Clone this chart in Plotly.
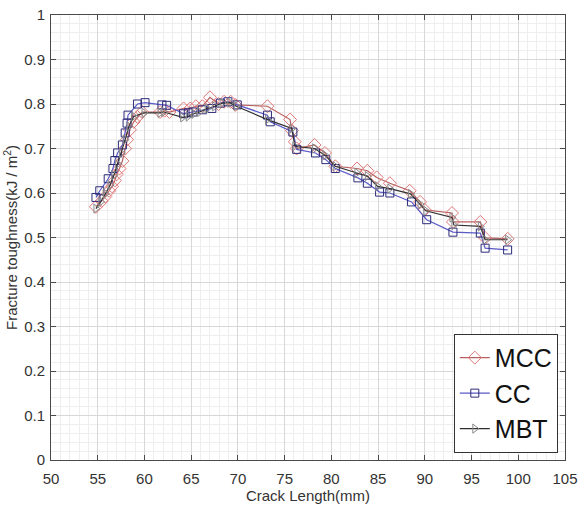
import plotly.graph_objects as go

# Crack length (mm) and fracture toughness (kJ/m^2) for each data-reduction method
mcc_x = [54.81, 55.42, 55.82, 56.22, 56.53, 56.83, 57.03, 57.33, 57.64, 57.94, 58.14, 58.44, 58.85,
         59.25, 59.75, 61.67, 62.17, 62.67, 64.19, 64.89, 65.50, 66.20, 67.01, 67.92, 68.52, 69.23,
         69.73, 73.16, 75.58, 75.78, 76.09, 76.29, 78.20, 79.31, 80.42, 82.74, 83.85, 84.85, 86.26,
         88.38, 89.49, 89.99, 92.91, 93.01, 95.94, 96.45, 98.86]
mcc_y = [0.569, 0.582, 0.592, 0.605, 0.615, 0.628, 0.642, 0.655, 0.672, 0.700, 0.720, 0.742, 0.760,
         0.771, 0.782, 0.782, 0.785, 0.782, 0.790, 0.790, 0.795, 0.795, 0.815, 0.800, 0.805, 0.805,
         0.798, 0.795, 0.765, 0.740, 0.715, 0.700, 0.708, 0.690, 0.660, 0.655, 0.650, 0.635, 0.622,
         0.605, 0.580, 0.562, 0.555, 0.535, 0.535, 0.499, 0.497]

cc_x = [54.81, 55.22, 56.12, 56.63, 56.83, 57.13, 57.64, 57.94, 58.14, 58.24, 59.25, 60.06, 61.87,
        62.37, 64.19, 64.69, 65.20, 66.20, 67.21, 68.12, 68.93, 69.93, 73.16, 73.46, 75.88, 76.29,
        78.30, 79.41, 80.42, 82.84, 83.85, 85.16, 86.26, 88.58, 90.20, 93.01, 95.94, 96.45, 98.86]
cc_y = [0.590, 0.605, 0.632, 0.655, 0.673, 0.690, 0.708, 0.735, 0.757, 0.775, 0.800, 0.803, 0.798,
        0.797, 0.778, 0.780, 0.782, 0.787, 0.790, 0.802, 0.805, 0.798, 0.775, 0.760, 0.737, 0.698,
        0.690, 0.675, 0.655, 0.634, 0.622, 0.602, 0.600, 0.580, 0.540, 0.512, 0.510, 0.476, 0.472]

mbt_x = [54.81, 55.32, 55.82, 56.33, 56.73, 57.13, 57.54, 57.94, 58.34, 58.85, 59.96, 61.67, 62.07,
         64.09, 64.69, 65.30, 65.90, 66.71, 67.51, 68.32, 69.13, 69.83, 73.16, 75.78, 76.09, 78.20,
         79.31, 80.42, 82.74, 83.85, 84.95, 86.26, 88.48, 89.49, 90.10, 92.91, 93.11, 95.94, 96.45,
         98.86]
mbt_y = [0.565, 0.580, 0.598, 0.618, 0.640, 0.665, 0.690, 0.720, 0.750, 0.772, 0.780, 0.780, 0.782,
         0.770, 0.772, 0.778, 0.782, 0.790, 0.795, 0.802, 0.803, 0.795, 0.765, 0.745, 0.705, 0.700,
         0.685, 0.660, 0.645, 0.638, 0.615, 0.610, 0.598, 0.575, 0.560, 0.545, 0.528, 0.525, 0.495,
         0.495]

x_ticks = [50, 55, 60, 65, 70, 75, 80, 85, 90, 95, 100, 105]
y_ticks = [0, 0.1, 0.2, 0.3, 0.4, 0.5, 0.6, 0.7, 0.8, 0.9, 1]
y_tick_text = ["0", "0.1", "0.2", "0.3", "0.4", "0.5", "0.6", "0.7", "0.8", "0.9", "1"]

fig = go.Figure()
fig.add_trace(go.Scatter(
    x=mcc_x, y=mcc_y, name="MCC", mode="lines+markers",
    line=dict(color="#b86060", width=1.2),
    marker=dict(symbol="diamond-open", size=10, color="#e07878", line=dict(width=1)),
))
fig.add_trace(go.Scatter(
    x=cc_x, y=cc_y, name="CC", mode="lines+markers",
    line=dict(color="#5a5ac8", width=1.2),
    marker=dict(symbol="square-open", size=8, color="#2c2c7a", line=dict(width=1)),
))
fig.add_trace(go.Scatter(
    x=mbt_x, y=mbt_y, name="MBT", mode="lines+markers",
    line=dict(color="#303030", width=1.2),
    marker=dict(symbol="triangle-right-open", size=8, color="#8a8a8a", line=dict(width=1)),
))

axis_common = dict(
    showline=True, linecolor="#4a4a4a", linewidth=1, mirror="allticks",
    ticks="inside", ticklen=5, tickcolor="#4a4a4a",
    showgrid=True, gridcolor="#d8d8d8", gridwidth=1,
    zeroline=False, automargin=False,
    tickfont=dict(family="Liberation Sans, Arial", size=15, color="#333333"),
)

fig.update_xaxes(
    range=[50, 105], tickvals=x_ticks, ticklabelstandoff=5,
    minor=dict(dtick=1, showgrid=True, gridcolor="#eeeeee", gridwidth=1),
    title=dict(text="Crack Length(mm)", standoff=2,
               font=dict(family="Liberation Sans, Arial", size=15, color="#333333")),
    **axis_common,
)
fig.update_yaxes(
    range=[0, 1], tickvals=y_ticks, ticktext=y_tick_text, ticklabelstandoff=2,
    minor=dict(dtick=0.02, showgrid=True, gridcolor="#eeeeee", gridwidth=1),
    title=dict(text="Fracture toughness(kJ / m<sup>2</sup>)", standoff=2,
               font=dict(family="Liberation Sans, Arial", size=15, color="#333333")),
    **axis_common,
)

fig.update_layout(
    width=578, height=505,
    margin=dict(l=51, r=13, t=15, b=45),
    paper_bgcolor="white", plot_bgcolor="white",
    legend=dict(
        x=0.986, y=0.016, xanchor="right", yanchor="bottom",
        bgcolor="white", bordercolor="#333333", borderwidth=1,
        font=dict(family="Liberation Sans, Arial", size=25, color="#111111"),
        itemwidth=30, tracegroupgap=0,
    ),
)

fig.write_html("out.html")
